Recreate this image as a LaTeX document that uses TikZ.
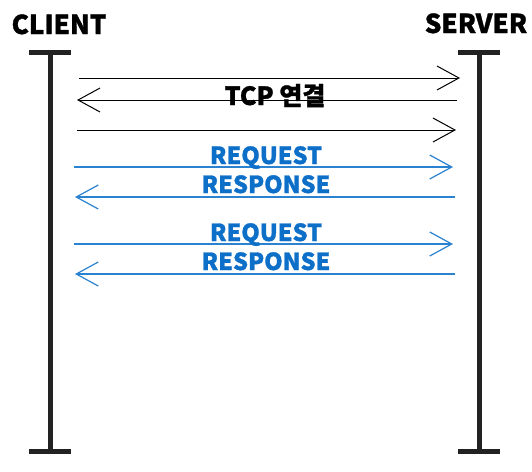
\documentclass[tikz,border=0pt]{standalone}
\usepackage{fontspec}
\setmainfont{Noto Sans CJK KR}[BoldFont={Noto Sans CJK KR Black}, BoldFeatures={FakeBold=1.2}]
\usepackage{tikz}
\usetikzlibrary{arrows.meta}
\definecolor{lifegray}{HTML}{222222}
\definecolor{reqblue}{HTML}{0D6FC8}
\definecolor{reqline}{HTML}{2A82D0}

\begin{document}
\begin{tikzpicture}[x=1pt, y=-1pt,
  lifeline/.style={draw=lifegray, line width=5pt},
  tcpline/.style={draw=black, line width=1pt, -{Straight Barb[length=22pt, width=24pt]}},
  httpline/.style={draw=reqline, line width=1.2pt, -{Straight Barb[length=22pt, width=24pt]}},
  hostlabel/.style={anchor=base, inner sep=0pt, text=black, font=\fontsize{26}{26}\selectfont\bfseries},
  tcplabel/.style={anchor=base, inner sep=0pt, text=black, font=\fontsize{25}{25}\selectfont\bfseries},
  msglabel/.style={anchor=base, inner sep=0pt, text=reqblue, font=\fontsize{23.5}{23.5}\selectfont\bfseries}]

\useasboundingbox (0,0) rectangle (532,471);

\node[hostlabel] (client) at (59,34) {CLIENT};
\node[hostlabel] (server) at (476,33) {SERVER};

\coordinate (clientTop) at (50,52.5);
\coordinate (clientBottom) at (50,451);
\coordinate (serverTop) at (479,52.5);
\coordinate (serverBottom) at (479,451);

\draw[lifeline] (clientTop) -- (clientBottom);
\draw[lifeline] ([xshift=-21]clientTop) -- ([xshift=21]clientTop);
\draw[lifeline] ([xshift=-21]clientBottom) -- ([xshift=21]clientBottom);
\draw[lifeline] (serverTop) -- (serverBottom);
\draw[lifeline] ([xshift=-21]serverTop) -- ([xshift=21]serverTop);
\draw[lifeline] ([xshift=-21]serverBottom) -- ([xshift=21]serverBottom);

\coordinate (c1) at (79,78);  \coordinate (s1) at (460,78);
\coordinate (c2) at (77,100); \coordinate (s2) at (457,100);
\coordinate (c3) at (77,130); \coordinate (s3) at (456,130);
\coordinate (c4) at (74,167); \coordinate (s4) at (453,167);
\coordinate (c5) at (75,197); \coordinate (s5) at (455,197);
\coordinate (c6) at (74,244); \coordinate (s6) at (453,244);
\coordinate (c7) at (75,274); \coordinate (s7) at (455,274);

\draw[tcpline] (c1) -- (s1);
\draw[tcpline] (s2) -- (c2);
\draw[tcpline] (c3) -- (s3);
\node[tcplabel] (tcp) at (275,105) {TCP 연결};

\draw[httpline] (c4) -- (s4);
\node[msglabel] (req1) at (266,164) {REQUEST};
\draw[httpline] (s5) -- (c5);
\node[msglabel] (res1) at (266,193) {RESPONSE};
\draw[httpline] (c6) -- (s6);
\node[msglabel] (req2) at (266,241) {REQUEST};
\draw[httpline] (s7) -- (c7);
\node[msglabel] (res2) at (266,270) {RESPONSE};

\end{tikzpicture}
\end{document}
